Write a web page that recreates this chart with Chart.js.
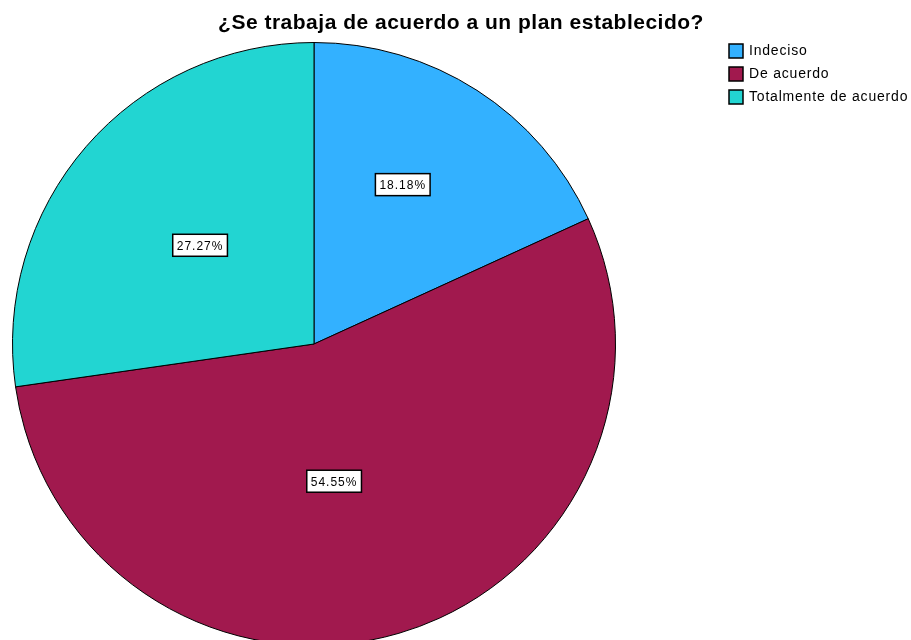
<!DOCTYPE html>
<html>
<head>
<meta charset="utf-8">
<script src="https://cdn.jsdelivr.net/npm/chart.js@4/dist/chart.umd.min.js"></script>
<style>
  html, body { margin: 0; padding: 0; background: #fff; overflow: hidden; }
  #wrap { width: 911px; height: 660px; position: relative; }
</style>
</head>
<body>
<div id="wrap"><canvas id="pieChart"></canvas></div>
<script>
var titleText = "¿Se trabaja de acuerdo a un plan establecido?";
var categories = ["Indeciso", "De acuerdo", "Totalmente de acuerdo"];
var percents = [18.18, 54.55, 27.27];
var colors = ["#33b1ff", "#a1194e", "#22d5d2"];

// titulo, leyenda y etiquetas de porcentaje
var spssPlugin = {
    id: "spss",
    afterDraw: function (chart) {
        var ctx = chart.ctx;
        ctx.save();
        ctx.fillStyle = "#000";
        ctx.font = "bold 21px 'Liberation Sans', Arial, sans-serif";
        ctx.letterSpacing = "0.5px";
        ctx.textAlign = "center";
        ctx.textBaseline = "middle";
        ctx.fillText(titleText, 461, 23);

        // leyenda
        ctx.font = "14px 'Liberation Sans', Arial, sans-serif";
        ctx.letterSpacing = "0.8px";
        ctx.textAlign = "left";
        categories.forEach(function (c, i) {
            var y = 44 + i * 23;
            ctx.fillStyle = colors[i];
            ctx.fillRect(729, y, 14, 14);
            ctx.lineWidth = 1.5;
            ctx.strokeStyle = "#000";
            ctx.strokeRect(729, y, 14, 14);
            ctx.fillStyle = "#000";
            ctx.fillText(c, 749, y + 7);
        });

        // etiquetas
        var radFrac = [0.605, 0.46, 0.5];
        var angNudge = [-0.063, 0.14, 0];
        var meta = chart.getDatasetMeta(0);
        ctx.font = "12px 'Liberation Sans', Arial, sans-serif";
        ctx.letterSpacing = "1px";
        ctx.textAlign = "center";
        meta.data.forEach(function (arc, i) {
            var mid = (arc.startAngle + arc.endAngle) / 2 + angNudge[i];
            var r = arc.outerRadius * radFrac[i];
            var x = arc.x + Math.cos(mid) * r;
            var y = arc.y + Math.sin(mid) * r;
            var txt = percents[i].toFixed(2) + "%";
            var w = ctx.measureText(txt).width + 8;
            ctx.fillStyle = "#fff";
            ctx.fillRect(x - w / 2, y - 11, w, 22);
            ctx.lineWidth = 1.5;
            ctx.strokeStyle = "#000";
            ctx.strokeRect(x - w / 2, y - 11, w, 22);
            ctx.fillStyle = "#000";
            ctx.fillText(txt, x, y + 1);
        });
        ctx.restore();
    }
};

var ctx = document.getElementById("pieChart").getContext("2d");
var pieChart = new Chart(ctx, {
    type: "pie",
    data: {
        labels: categories,
        datasets: [{
            data: percents,
            backgroundColor: colors,
            borderColor: "#000",
            borderWidth: 1
        }]
    },
    options: {
        responsive: true,
        maintainAspectRatio: false,
        animation: false,
        layout: { padding: { left: 12, right: 295, top: 42, bottom: 14 } },
        plugins: {
            legend: { display: false },
            tooltip: { enabled: false },
            title: { display: false }
        }
    },
    plugins: [spssPlugin]
});
</script>
</body>
</html>
